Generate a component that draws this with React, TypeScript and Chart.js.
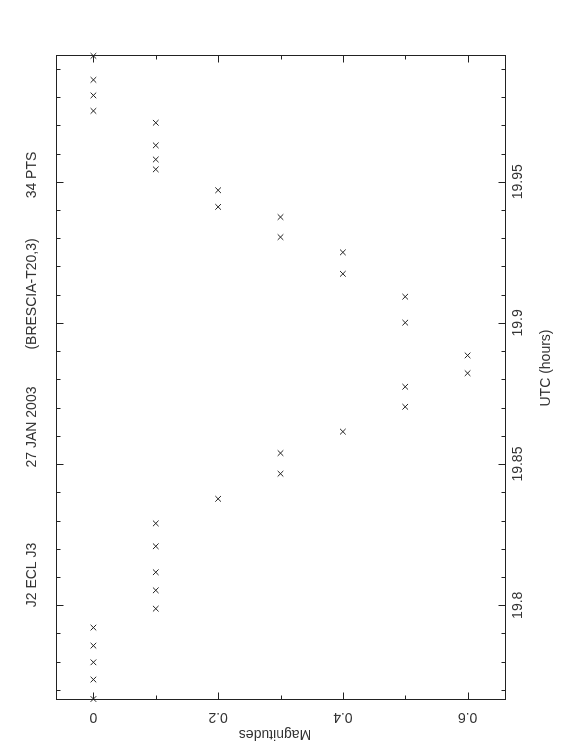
import React, { useEffect, useRef } from 'react';
import { Chart, registerables } from 'chart.js';

Chart.register(...registerables);

// UTC time of each observation (hours) and its magnitude level
const utcHours = [
  19.7668, 19.7737, 19.7798, 19.7857, 19.7921,
  19.7988, 19.8053, 19.8117, 19.8209, 19.829,
  19.8377, 19.8466, 19.8539, 19.8615, 19.8703,
  19.8774, 19.8822, 19.8885, 19.9001, 19.9093,
  19.9174, 19.925, 19.9304, 19.9375, 19.9411,
  19.947, 19.9544, 19.9579, 19.9629, 19.9709,
  19.9751, 19.9806, 19.9861, 19.9946,
];
const magnitudes = [
  0, 0, 0, 0, 0,
  0.1, 0.1, 0.1, 0.1, 0.1,
  0.2, 0.3, 0.3, 0.4, 0.5,
  0.5, 0.6, 0.6, 0.5, 0.5,
  0.4, 0.4, 0.3, 0.3, 0.2,
  0.2, 0.1, 0.1, 0.1, 0.1,
  0, 0, 0, 0,
];

const utcMajorTicks = [19.8, 19.85, 19.9, 19.95];
const utcTickLabels = ['19.8', '19.85', '19.9', '19.95'];
const utcMinorTicks = [
  19.77, 19.78, 19.79, 19.81, 19.82, 19.83, 19.84, 19.86, 19.87, 19.88, 19.89,
  19.91, 19.92, 19.93, 19.94, 19.96, 19.97, 19.98, 19.99,
];
const magMajorTicks = [0, 0.2, 0.4, 0.6];
const magTickLabels = ['0', '0.2', '0.4', '0.6'];
const magMinorTicks = [0.1, 0.3, 0.5];
const utcRange = [19.7668, 19.9949];
const magRange = [-0.06, 0.66];

const titleParts = ['J2 ECL J3', '27 JAN 2003', '(BRESCIA-T20,3)', '34 PTS'];
const xAxisTitle = 'UTC (hours)';
const yAxisTitle = 'Magnitudes';

const FONT = "'Liberation Sans', Arial, sans-serif";
const INK = '#222';
const TEXT = '#333';

const W = 756;
const H = 562;

const pgPlugin = {
  id: 'pgframe',
  afterDraw(chart: any) {
    const { ctx, chartArea: ca, scales } = chart;
    const x = scales.x;
    const y = scales.y;
    ctx.save();
    ctx.strokeStyle = INK;
    ctx.lineWidth = 1;
    const L = ca.left - 0.5;
    const R = ca.right - 0.5;
    const T = ca.top + 0.5;
    const B = ca.bottom + 0.5;
    ctx.strokeRect(L, T, R - L, B - T);
    ctx.beginPath();
    const xt = (v: number, len: number) => {
      const px = Math.round(x.getPixelForValue(v)) - 0.5;
      ctx.moveTo(px, B);
      ctx.lineTo(px, B - len);
      ctx.moveTo(px, T);
      ctx.lineTo(px, T + len);
    };
    const yt = (v: number, len: number) => {
      const py = Math.round(y.getPixelForValue(v)) + 0.5;
      ctx.moveTo(L, py);
      ctx.lineTo(L + len, py);
      ctx.moveTo(R, py);
      ctx.lineTo(R - len, py);
    };
    utcMajorTicks.forEach((v) => xt(v, 7));
    utcMinorTicks.forEach((v) => xt(v, 4));
    magMajorTicks.forEach((v) => yt(v, 7));
    magMinorTicks.forEach((v) => yt(v, 4));
    ctx.stroke();

    ctx.fillStyle = TEXT;
    ctx.font = `14px ${FONT}`;
    ctx.textAlign = 'center';
    ctx.textBaseline = 'middle';
    magMajorTicks.forEach((v, i) => {
      const py = y.getPixelForValue(v);
      ctx.save();
      ctx.translate(39, py);
      ctx.rotate(-Math.PI / 2);
      ctx.fillText(magTickLabels[i], 0, 0);
      ctx.restore();
    });

    // axis titles
    ctx.fillText(xAxisTitle, (ca.left + ca.right) / 2 + 9, 546);
    ctx.save();
    ctx.translate(22, (ca.top + ca.bottom) / 2 - 5.5);
    ctx.rotate(-Math.PI / 2);
    ctx.fillText(yAxisTitle, 0, 0);
    ctx.restore();

    const centers = [181, 329, 462, 581];
    titleParts.forEach((t, i) => {
      ctx.fillText(t, centers[i], 32);
    });
    ctx.restore();
  },
};

export default function App() {
  const ref = useRef<HTMLCanvasElement | null>(null);
  useEffect(() => {
    if (!ref.current) return;
    const chart = new Chart(ref.current, {
      type: 'scatter',
      data: {
        datasets: [
          {
            data: utcHours.map((u, i) => ({ x: u, y: magnitudes[i] })),
            pointStyle: 'crossRot',
            pointRadius: 4,
            pointBorderWidth: 1,
            borderColor: INK,
            backgroundColor: INK,
            clip: false,
          } as any,
        ],
      },
      options: {
        responsive: false,
        animation: false,
        devicePixelRatio: 1,
        layout: { padding: { top: 56, right: 55, left: 0, bottom: 0 } },
        plugins: {
          legend: { display: false },
          tooltip: { enabled: false },
          title: { display: false },
        },
        scales: {
          x: {
            type: 'linear',
            position: 'bottom',
            min: utcRange[0],
            max: utcRange[1],
            grid: { display: false, drawTicks: false },
            border: { display: false },
            afterBuildTicks: (s: any) => {
              s.ticks = utcMajorTicks.map((v) => ({ value: v }));
            },
            afterFit: (s: any) => {
              s.height = 57;
            },
            ticks: {
              autoSkip: false,
              maxRotation: 0,
              minRotation: 0,
              padding: 5,
              color: TEXT,
              font: { family: FONT, size: 14 },
              callback: (v: any) => {
                const i = utcMajorTicks.indexOf(Number(v));
                return i >= 0 ? utcTickLabels[i] : '';
              },
            },
            title: { display: false },
          },
          y: {
            type: 'linear',
            position: 'left',
            reverse: true,
            min: magRange[0],
            max: magRange[1],
            grid: { display: false, drawTicks: false },
            border: { display: false },
            ticks: { display: false },
            afterFit: (s: any) => {
              s.width = 57;
            },
            title: { display: false },
          },
        },
      },
      plugins: [pgPlugin],
    } as any);
    return () => chart.destroy();
  }, []);

  return (
    <div
      style={{
        position: 'fixed',
        left: 0,
        top: 0,
        width: W,
        height: H,
        background: '#fff',
        transformOrigin: '0 0',
        transform: `translate(0px, ${W}px) rotate(-90deg)`,
      }}
    >
      <canvas ref={ref} width={W} height={H} style={{ width: W, height: H, display: 'block' }} />
    </div>
  );
}
